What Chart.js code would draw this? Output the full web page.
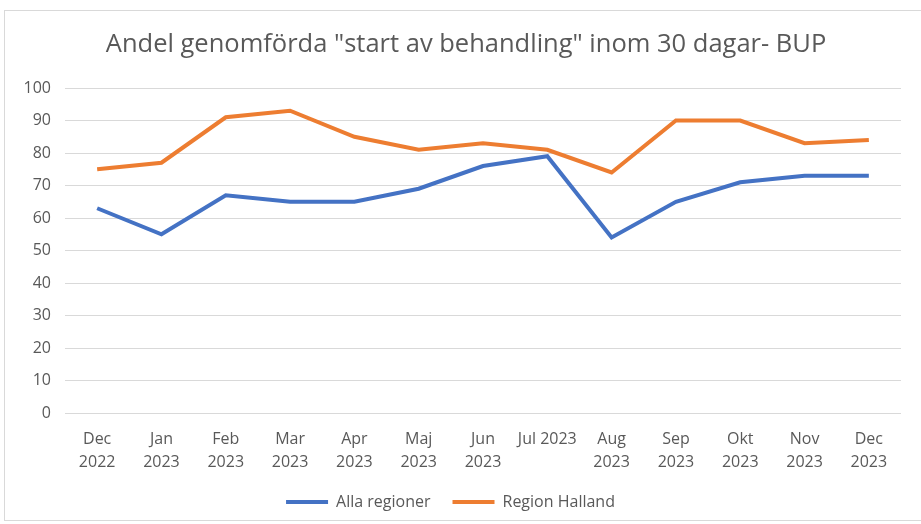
<!DOCTYPE html>
<html>
<head>
<meta charset="utf-8">
<script src="https://cdn.jsdelivr.net/npm/chart.js@4.4.1/dist/chart.umd.min.js"></script>
<style>
  html, body { margin: 0; padding: 0; background: #fff; }
  #wrap { position: absolute; left: 0; top: 0; width: 921px; height: 524px; }
  #frame { position: absolute; left: 4px; top: 10px; width: 930px; height: 511px; border: 1px solid #d9d9d9; box-sizing: border-box; }
</style>
</head>
<body>
<div id="frame"></div>
<div id="wrap"><canvas id="c" width="921" height="524"></canvas></div>
<script>
const titleText = 'Andel genomförda "start av behandling" inom 30 dagar- BUP';
const categories = [["Dec","2022"],["Jan","2023"],["Feb","2023"],["Mar","2023"],["Apr","2023"],["Maj","2023"],["Jun","2023"],"Jul 2023",["Aug","2023"],["Sep","2023"],["Okt","2023"],["Nov","2023"],["Dec","2023"]];
const seriesNames = ["Alla regioner", "Region Halland"];
const allaRegioner = [63, 55, 67, 65, 65, 69, 76, 79, 54, 65, 71, 73, 73];
const regionHalland = [75, 77, 91, 93, 85, 81, 83, 81, 74, 90, 90, 83, 84];
const yMin = 0, yMax = 100, yStep = 10;

const FONT = "'Open Sans', 'Noto Sans', sans-serif";
const TXT = '#595959';

const titlePlugin = {
  id: 'customTitle',
  afterDraw(chart) {
    const ctx = chart.ctx;
    ctx.save();
    ctx.font = "25.5px " + FONT;
    ctx.fillStyle = TXT;
    ctx.textAlign = 'center';
    ctx.textBaseline = 'middle';
    ctx.fillText(titleText, 466, 45);
    ctx.restore();
  }
};

new Chart(document.getElementById('c'), {
  type: 'line',
  data: {
    labels: categories,
    datasets: [
      { label: seriesNames[0], data: allaRegioner, borderColor: '#4472C4', backgroundColor: '#4472C4', borderWidth: 4, pointRadius: 0, pointHoverRadius: 0, tension: 0, fill: false },
      { label: seriesNames[1], data: regionHalland, borderColor: '#ED7D31', backgroundColor: '#ED7D31', borderWidth: 4, pointRadius: 0, pointHoverRadius: 0, tension: 0, fill: false }
    ]
  },
  options: {
    responsive: false,
    animation: false,
    layout: { padding: { top: 88, right: 20, left: 0, bottom: 4 } },
    plugins: {
      title: { display: false },
      tooltip: { enabled: false },
      legend: {
        position: 'bottom',
        labels: {
          font: { family: FONT, size: 16 },
          color: TXT,
          boxWidth: 42,
          boxHeight: 4,
          padding: 22,
          generateLabels(chart) {
            return chart.data.datasets.map((d, i) => ({
              text: d.label, fillStyle: d.borderColor, strokeStyle: d.borderColor, lineWidth: 0, fontColor: TXT, datasetIndex: i, hidden: false
            }));
          }
        }
      }
    },
    scales: {
      x: {
        offset: true,
        grid: { display: false },
        border: { display: false },
        ticks: { color: TXT, font: { family: FONT, size: 16, lineHeight: 1.45 }, padding: 7, maxRotation: 0, autoSkip: false },
        afterFit(scale) { scale.height = 59; }
      },
      y: {
        min: yMin, max: yMax,
        grid: { color: '#d9d9d9', lineWidth: 1, drawTicks: false },
        border: { display: false },
        ticks: { stepSize: yStep, color: TXT, font: { family: FONT, size: 16 }, padding: 14 },
        afterFit(scale) { scale.width = 65; }
      }
    }
  },
  plugins: [titlePlugin]
});
</script>
</body>
</html>
